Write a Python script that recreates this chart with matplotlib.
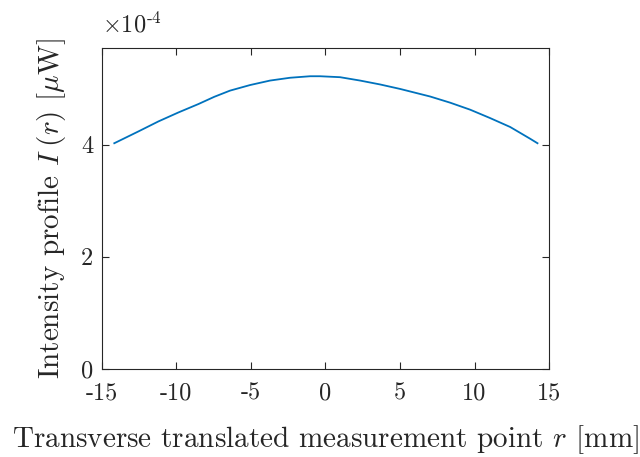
import matplotlib
matplotlib.use("Agg")
import matplotlib.pyplot as plt
import numpy as np

# values (r in mm, intensity in uW)
r_mm = [-14.16, -12.55, -11.20, -9.86, -8.52, -7.45, -6.40, -5.05,
        -3.71, -2.37, -1.03, -0.36, 0.98, 2.32, 3.67, 5.01,
        6.35, 7.02, 8.36, 9.70, 11.04, 12.39, 13.73, 14.22]
intensity = [4.03e-4, 4.24e-4, 4.42e-4, 4.58e-4, 4.73e-4, 4.86e-4, 4.97e-4, 5.07e-4,
             5.15e-4, 5.20e-4, 5.227e-4, 5.227e-4, 5.21e-4, 5.15e-4, 5.08e-4, 5.00e-4,
             4.91e-4, 4.865e-4, 4.755e-4, 4.63e-4, 4.48e-4, 4.32e-4, 4.11e-4, 4.03e-4]

x_ticks = [-15, -10, -5, 0, 5, 10, 15]
x_tick_labels = ["-15", "-10", "-5", "0", "5", "10", "15"]
y_ticks = [0, 2e-4, 4e-4]
y_tick_labels = ["0", "2", "4"]

plt.rcParams.update({
    "font.family": "serif",
    "font.serif": ["cmr10"],
    "mathtext.fontset": "cm",
    "axes.unicode_minus": False,
})

fig = plt.figure(figsize=(6.4, 4.57), dpi=100)
ax = fig.add_axes([0.159, 0.193, 0.699, 0.703])

ax.plot(r_mm, intensity, color="#0072BD", linewidth=1.3)

ax.set_xlim(-15, 15)
ax.set_ylim(0, 5.74e-4)
ax.set_xticks(x_ticks)
ax.set_xticklabels(x_tick_labels)
ax.set_yticks(y_ticks)
ax.set_yticklabels(y_tick_labels)

ax.tick_params(direction="in", top=True, right=True, length=5, width=0.8,
               color="#262626", labelsize=17.5, labelcolor="#262626")
ax.tick_params(axis="x", pad=10)
ax.tick_params(axis="y", pad=6)
for s in ax.spines.values():
    s.set_color("#262626")
    s.set_linewidth(0.8)

ax.set_xlabel(r"Transverse translated measurement point $r$ [mm]", fontsize=21,
              color="#262626")
ax.set_ylabel(r"Intensity profile $I\;(r)$ [$\mu$W]", fontsize=21,
              color="#262626")
ax.xaxis.set_label_coords(0.5, -0.17)
ax.yaxis.set_label_coords(-0.075, 0.5)

# exponent label, MATLAB style (hyphen instead of minus)
ax.text(0.0, 1.047, r"$\times 10^{\text{-}4}$", transform=ax.transAxes, fontsize=17.5,
        color="#262626", ha="left", va="baseline")

fig.savefig("out.png", dpi=100)
